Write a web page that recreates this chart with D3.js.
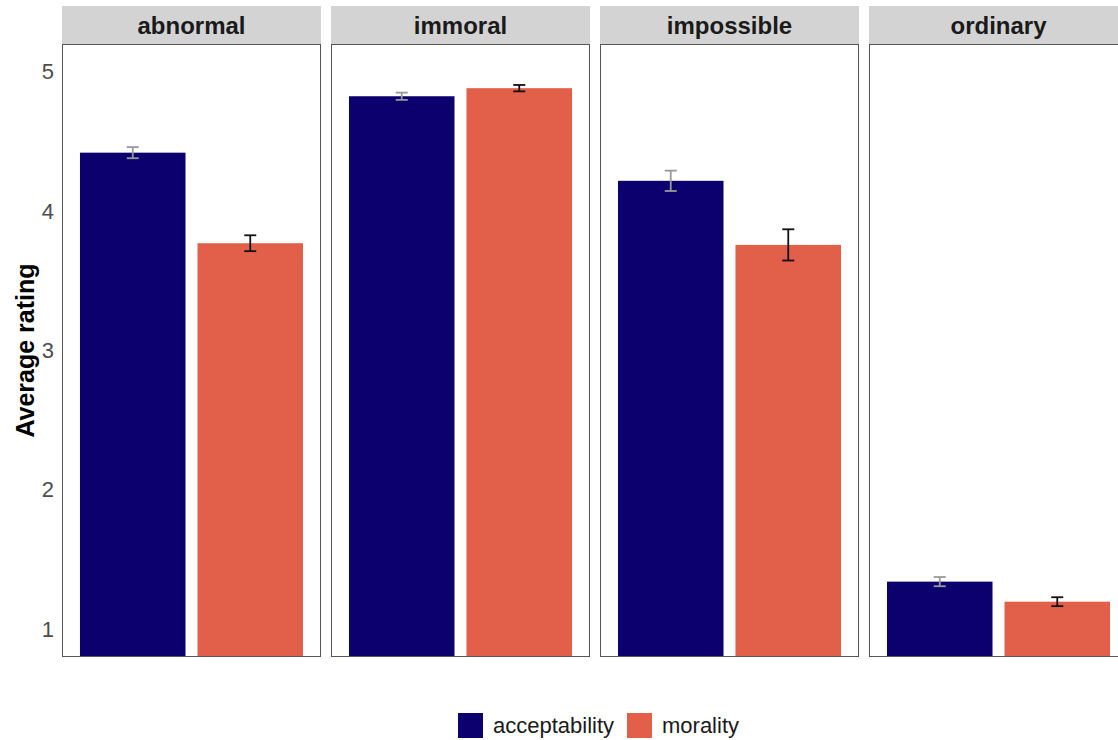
<!DOCTYPE html>
<html>
<head>
<meta charset="utf-8">
<script src="https://cdn.jsdelivr.net/npm/d3@7"></script>
<style>
  body { margin: 0; background: #fff; }
  svg { display: block; font-family: "Liberation Sans", Arial, Helvetica, sans-serif; }
</style>
</head>
<body>
<svg id="chart" width="1118" height="740"></svg>
<script>
// Facets (stimulus type) and rating measures
const facets = ["abnormal", "immoral", "impossible", "ordinary"];
const measures = ["acceptability", "morality"];

// Mean ratings per facet, one array per measure
const acceptabilityMean = [4.42, 4.825, 4.218, 1.341];
const moralityMean      = [3.77, 4.883, 3.758, 1.197];

// Standard errors per facet
const acceptabilitySE = [0.040, 0.026, 0.073, 0.033];
const moralitySE      = [0.057, 0.023, 0.112, 0.032];

const yTicks = [1, 2, 3, 4, 5];

const colors = { acceptability: "#0c006f", morality: "#e2604a" };
const errColors = { acceptability: "#999999", morality: "#111111" };

const svg = d3.select("#chart");

const panelTop = 44, panelBottom = 657;
const stripTop = 6;
const panelW = 259, panelGap = 10, firstLeft = 62;

// y scale: data range [1,5] with 5% expansion
const y = d3.scaleLinear().domain([0.8, 5.2]).range([panelBottom, panelTop]);

const x = d3.scaleBand().domain(measures).range([0, panelW])
  .paddingInner(0.102).paddingOuter(0.153);

const rows = facets.map((f, i) => ({
  facet: f,
  bars: [
    { measure: "acceptability", mean: acceptabilityMean[i], se: acceptabilitySE[i] },
    { measure: "morality", mean: moralityMean[i], se: moralitySE[i] }
  ]
}));

// clip region covering the plotting area of one panel
svg.append("defs").append("clipPath").attr("id", "panelClip")
  .append("rect").attr("x", 0).attr("y", panelTop)
  .attr("width", panelW).attr("height", panelBottom - panelTop);

const panels = svg.selectAll("g.panel").data(rows).join("g")
  .attr("class", "panel")
  .attr("transform", (d, i) => `translate(${firstLeft + i * (panelW + panelGap)},0)`);

// strip header
panels.append("rect")
  .attr("x", 0).attr("y", stripTop)
  .attr("width", panelW).attr("height", panelTop - stripTop)
  .attr("fill", "#d3d3d3");
panels.append("text")
  .attr("x", panelW / 2).attr("y", (stripTop + panelTop) / 2)
  .attr("dy", "0.36em")
  .attr("text-anchor", "middle")
  .attr("font-size", 24).attr("font-weight", "bold")
  .attr("fill", "#1a1a1a")
  .text(d => d.facet);

// bars, clipped to panel
const plot = panels.append("g").attr("clip-path", "url(#panelClip)");

plot.selectAll("rect.bar").data(d => d.bars).join("rect")
  .attr("class", "bar")
  .attr("x", d => x(d.measure))
  .attr("width", x.bandwidth())
  .attr("y", d => y(d.mean))
  .attr("height", d => y(0) - y(d.mean))
  .attr("fill", d => colors[d.measure]);

// error bars
const eb = plot.selectAll("g.err").data(d => d.bars).join("g").attr("class", "err")
  .attr("stroke", d => errColors[d.measure]).attr("stroke-width", 1.8).attr("fill", "none");
const cx = d => x(d.measure) + x.bandwidth() / 2;
const capHalf = 6;
eb.append("line").attr("x1", cx).attr("x2", cx)
  .attr("y1", d => y(d.mean + d.se)).attr("y2", d => y(d.mean - d.se));
eb.append("line").attr("x1", d => cx(d) - capHalf).attr("x2", d => cx(d) + capHalf)
  .attr("y1", d => y(d.mean + d.se)).attr("y2", d => y(d.mean + d.se));
eb.append("line").attr("x1", d => cx(d) - capHalf).attr("x2", d => cx(d) + capHalf)
  .attr("y1", d => y(d.mean - d.se)).attr("y2", d => y(d.mean - d.se));

// panel border
panels.append("rect")
  .attr("x", 0.5).attr("y", panelTop + 0.5)
  .attr("width", panelW - 1).attr("height", panelBottom - panelTop - 1)
  .attr("fill", "none").attr("stroke", "#555555").attr("stroke-width", 1);

// y axis
const yAxis = svg.append("g")
  .attr("transform", `translate(${firstLeft - 8},0)`)
  .call(d3.axisLeft(y).tickValues(yTicks).tickSize(0).tickPadding(0).tickFormat(d3.format("d")));
yAxis.select(".domain").remove();
yAxis.selectAll("text").attr("font-size", 22).attr("fill", "#4d4d4d")
  .attr("font-family", "'Liberation Sans', Arial, sans-serif");

// y axis title
svg.append("text")
  .attr("transform", `translate(25,${(panelTop + panelBottom) / 2}) rotate(-90)`)
  .attr("text-anchor", "middle").attr("dy", "0.36em")
  .attr("font-size", 25).attr("font-weight", "bold").attr("fill", "#000")
  .text("Average rating");

// legend
const legend = svg.append("g").attr("transform", "translate(458,713)");
const legendX = [0, 169];
const li = legend.selectAll("g").data(measures).join("g")
  .attr("transform", (d, i) => `translate(${legendX[i]},0)`);
li.append("rect").attr("width", 25).attr("height", 25).attr("fill", d => colors[d]);
li.append("text").attr("x", 35).attr("y", 12.5).attr("dy", "0.36em")
  .attr("font-size", 22).attr("fill", "#1a1a1a").text(d => d);
</script>
</body>
</html>
